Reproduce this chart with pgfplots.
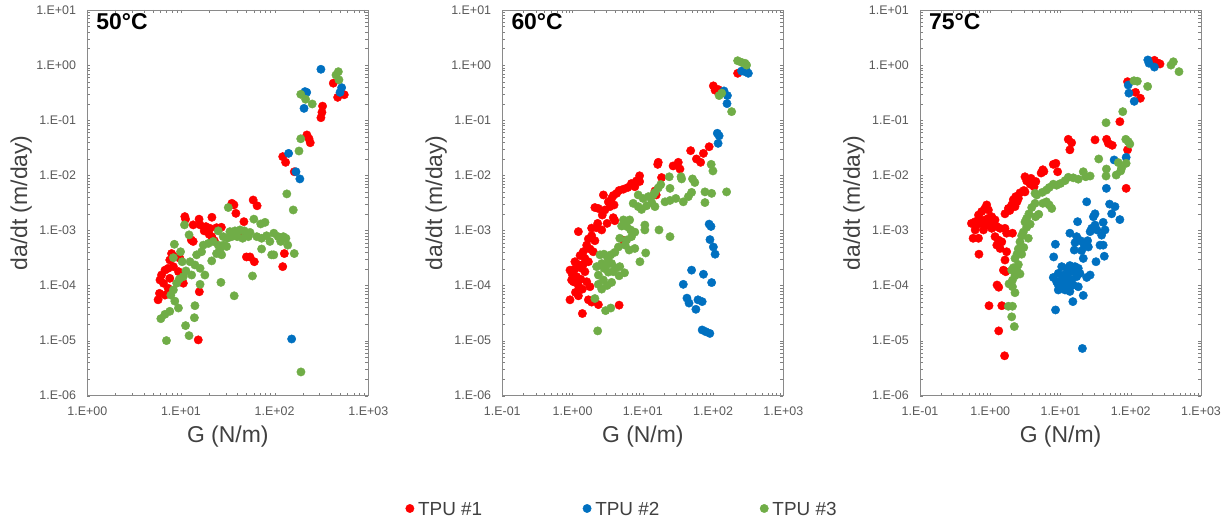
\documentclass[border=0pt]{standalone}
\usepackage{fontspec}
\setmainfont{Liberation Sans}
\usepackage{pgfplots}
\pgfplotsset{compat=1.18}
\definecolor{tpured}{HTML}{FF0000}
\definecolor{tpublue}{HTML}{0070C0}
\definecolor{tpugreen}{HTML}{70AD47}
\definecolor{boxgray}{HTML}{8A8A8A}
\definecolor{ticktext}{HTML}{595959}
\definecolor{labeltext}{HTML}{404040}
\pgfplotsset{
  every axis/.append style={
    xmode=log, ymode=log, width=281bp, height=385.7bp, scale only axis,
    ymin=1e-6, ymax=10, xmax=1000,
    ytick={1e-6,1e-5,1e-4,1e-3,1e-2,1e-1,1,10},
    yticklabels={1.E-06,1.E-05,1.E-04,1.E-03,1.E-02,1.E-01,1.E+00,1.E+01},
    minor xtick={}, minor ytick={},
    major tick length=0pt,
    axis line style={draw=boxgray, line width=0.8bp},
    tick label style={font=\fontsize{12.5}{14}\selectfont, text=ticktext, inner sep=0pt},
    xticklabel style={anchor=north, yshift=-11bp},
    yticklabel style={anchor=east, xshift=-11bp},
    xlabel={G (N/m)}, ylabel={da/dt (m/day)},
    title style={at={(axis description cs:0,1)}, anchor=north west, xshift=9bp, yshift=-9.5bp, inner sep=0pt, font=\bfseries\fontsize{23}{27}\selectfont},
  },
  every axis x label/.style={at={(axis description cs:0.5,0)}, anchor=center, yshift=-41bp, font=\fontsize{23}{27}\selectfont, text=labeltext},
  every axis y label/.style={at={(axis description cs:0,0.5)}, anchor=center, xshift=-66bp, rotate=90, font=\fontsize{23}{27}\selectfont, text=labeltext},
}
\begin{document}
\begin{tikzpicture}
\path[use as bounding box] (0,0) rectangle (1231bp,523bp);
% ---------------- 50 C ----------------
\begin{axis}[at={(87.3bp,127.3bp)}, anchor=south west,
  xmin=1, xtick={1,10,100,1000}, xticklabels={1.E+00,1.E+01,1.E+02,1.E+03},
  title={50°C}]
\addplot[only marks, mark=*, mark size=4.2bp, color=tpured, mark options={draw=none, fill=tpured}] coordinates {
(423,0.47) (471,0.26) (554,0.29) (325,0.18) (320,0.139) (312,0.111) (221,0.054) (233,0.046) (240,0.039) (122,0.0218) (131,0.0172) (162,0.0116)
(35,0.0031) (36.8,0.0029) (38.6,0.00204) (59,0.00356) (65,0.0028) (47,0.00144) (11,0.00178) (11.2,0.0016) (15.6,0.0016) (21.4,0.00173) (13.5,0.00126) (16,0.00126) (18.5,0.00117) (20.4,0.00109) (17.7,0.00098) (24,0.00112) (27,0.00114) (12.9,0.00067) (13.5,0.00063) (21.3,0.00077) (22.7,0.00065) (20,0.00085) (47,0.00083) (50,0.00033) (54.5,0.00033) (60.7,0.00027) (127,0.00038) (122,0.00022) (15.7,7.7e-5) (15.3,1.03e-5)
(7.94,0.00038) (8.6,0.00033) (9.75,0.00031) (7.6,0.00029) (7.3,0.000205) (6.75,0.00019) (8.3,0.00022) (6.2,0.000155) (5.97,0.000126) (6.5,0.00011) (7.6,0.000135) (10.2,0.000145) (10.6,0.00011) (7.3,8.9e-5) (5.9,7.2e-5) (5.7,5.5e-5) (6.75,6.7e-5) (9.4,0.000179)
};
\addplot[only marks, mark=*, mark size=4.2bp, color=tpublue, mark options={draw=none, fill=tpublue}] coordinates {
(312,0.84) (211,0.33) (220,0.32) (206,0.164) (519,0.39) (499,0.32) (141,0.025) (169,0.0116) (186,0.0086) (152,1.07e-5)
};
\addplot[only marks, mark=*, mark size=4.2bp, color=tpugreen, mark options={draw=none, fill=tpugreen}] coordinates {
(479,0.76) (452,0.66) (486,0.54) (190,0.295) (214,0.24) (252,0.197) (190,0.046) (182,0.0276) (135,0.0046) (158,0.00235) (191,2.7e-6)
(32,0.0026) (60,0.0016) (71,0.00131) (79,0.0014) (10.9,0.00126) (12.2,0.00083) (25,0.00098)
(33.3,0.00095) (37.7,0.00098) (42.7,0.00102) (47.4,0.00098) (54.6,0.00092)
(28.3,0.00077) (31.3,0.00072) (34.8,0.00077) (39.9,0.00077) (45.5,0.00072) (52.4,0.00077)
(64.6,0.00077) (72.6,0.00072) (82,0.0008) (98,0.00089) (109,0.00077) (124,0.00077) (132,0.00072)
(89,0.00063) (116,0.00063) (138,0.00054) (72.6,0.00046) (93,0.00036) (98,0.00036)
(162,0.00038) (58,0.000149) (37,6.5e-5) (26.7,0.000114) (21.3,0.00028)
(17.3,0.00054) (19.6,0.00058) (22.1,0.00063) (25,0.00054) (26,0.00044) (28.3,0.00054) (30.7,0.00051) (24,0.00038) (27.2,0.00036)
(8.5,0.00056) (9.9,0.00041) (8.3,0.00032) (10.3,0.00027) (14.7,0.00036) (16.6,0.00041) (12.5,0.00027) (14.1,0.000236) (16,0.000205) (18,0.000155) (11.3,0.000184) (13,0.000155) (10.6,0.000145) (9.6,0.000131) (9,0.00011) (8.3,8.3e-5) (7.8,6.7e-5) (8.6,5.2e-5) (9.4,3.9e-5) (7.6,3.4e-5) (6.75,3.0e-5) (6.1,2.5e-5) (16,0.000105) (14.1,4.3e-5) (13.9,2.6e-5) (11.2,1.87e-5) (12.2,1.23e-5) (7.0,1.0e-5)
};
\end{axis}
% ---------------- 60 C ----------------
\begin{axis}[at={(502.3bp,127.3bp)}, anchor=south west,
  xmin=0.1, xtick={0.1,1,10,100,1000}, xticklabels={1.E-01,1.E+00,1.E+01,1.E+02,1.E+03},
  title={60°C},
  legend columns=3,
  legend image code/.code={\draw[#1, mark size=4.2bp] plot coordinates {(0bp,1.5bp)};},
  legend style={at={(axis description cs:-0.3445,-0.2963)}, anchor=west, draw=none, fill=none, inner sep=0pt,
    font=\fontsize{19}{23}\selectfont, text=labeltext,
    nodes={inner sep=0pt},
    /tikz/every odd column/.append style={column sep=4bp},
    /tikz/every even column/.append style={column sep=100.6bp}}]
\addplot[only marks, mark=*, mark size=4.2bp, color=tpured, mark options={draw=none, fill=tpured}] coordinates {
(224,0.71) (101,0.42) (107,0.35) (119,0.36) (88,0.033) (73,0.025) (48,0.028) (58,0.0198) (66.5,0.0172) (16.6,0.0172) (16.3,0.0158) (27,0.0148) (32,0.0172) (33.8,0.013) (18.5,0.0091) (9.0,0.0098) (8.1,0.0079) (7.7,0.0062) (9,0.0077)
(6.9,0.0071) (6.1,0.006) (5.3,0.0056) (4.6,0.0053) (4.24,0.0047) (3.8,0.0043) (3.6,0.0038) (3.23,0.0033) (3.9,0.0029) (3.41,0.0027) (2.89,0.00235) (2.33,0.0025) (2.08,0.0026) (2.65,0.0019) (3.8,0.0017) (4.0,0.0015) (2.28,0.00134) (2.2,0.00112) (2.6,0.00102) (1.21,0.00095) (1.87,0.0008) (1.68,0.0007) (2.08,0.00065) (1.59,0.00054) (1.77,0.00046) (1.42,0.00041) (1.28,0.00035) (1.5,0.00031) (1.68,0.00027) (1.21,0.00024) (1.08,0.0002) (0.92,0.00019) (0.99,0.00016) (1.14,0.000145) (1.31,0.00013) (1.03,0.000117) (1.59,0.000117) (1.77,9.5e-5) (1.38,8.6e-5) (1.1,7.5e-5) (1.21,6.5e-5) (1.68,5.5e-5) (0.92,5.5e-5) (1.87,5e-5) (2.33,4.5e-5) (4.6,4.4e-5) (1.38,3.1e-5) (5.3,0.00066) (14.9,0.0052) (15.5,0.0044) (1.08,0.00027) (1.35,0.000205) (1.5,0.000178) (0.97,0.000126) (1.21,0.0001) (1.42,0.00024) (1.97,0.00041) (1.87,0.0011) (3.1,0.00134) (2.75,0.0044)
};
\addlegendentry{TPU \#1}
\addplot[only marks, mark=*, mark size=4.2bp, color=tpublue, mark options={draw=none, fill=tpublue}] coordinates {
(255,0.78) (285,0.76) (318,0.71) (300,0.78) (143,0.34) (160,0.28) (158,0.2) (115,0.058) (122,0.052) (118,0.038)
(88,0.0013) (93.5,0.00118) (90.4,0.00068) (101,0.0005) (107,0.00037) (49.5,0.00019) (73,0.00016) (95.5,0.000113) (37.7,0.000105) (42.5,5.9e-5) (45.5,4.8e-5) (61,5.5e-5) (70,5.1e-5) (57,3.7e-5) (70,1.56e-5) (79,1.45e-5) (90,1.35e-5)
};
\addlegendentry{TPU \#2}
\addplot[only marks, mark=*, mark size=4.2bp, color=tpugreen, mark options={draw=none, fill=tpugreen}] coordinates {
(224,1.2) (255,1.12) (285,1.08) (300,1.0) (122,0.28) (133,0.31) (184,0.143)
(23.8,0.0094) (35,0.0094) (35.7,0.0086) (51,0.0086) (55,0.0074) (94,0.0158) (99.6,0.012)
(8.6,0.0044) (10.1,0.0038) (12,0.0041) (14.1,0.0044) (14.9,0.0049) (16.6,0.0059) (18,0.0068) (13.4,0.0032) (11.3,0.0028) (9.6,0.0024) (7.3,0.0031) (8.6,0.0027) (14.9,0.0027) (20.7,0.0033) (24.4,0.0035) (29.5,0.0038) (37.7,0.0033) (44.5,0.0041) (49.5,0.0049) (76.7,0.005) (95.5,0.0047) (156,0.005) (76.7,0.0032) (24.4,0.0058)
(24.4,0.00077) (17,0.00102) (10.7,0.00102) (10.7,0.00125) (6.5,0.00155) (5.3,0.00155) (5,0.0012) (5.9,0.00118) (6.7,0.00102) (7.7,0.00093) (6.9,0.00077) (5.9,0.00067) (4.7,0.00072) (5.6,0.00054) (6.4,0.00044) (7.7,0.00047) (9.1,0.00027) (11,0.00039) (4.5,0.0005) (4.0,0.0004) (3.5,0.00036) (3.2,0.0003) (2.8,0.00037) (2.46,0.00036) (2.6,0.00025) (3.1,0.00024) (3.6,0.00025) (4.1,0.000205) (4.7,0.00022) (5.5,0.00017) (4.6,0.00015) (3.8,0.000178) (3.23,0.000175) (2.8,0.000205) (2.2,0.00022) (2.33,0.000155) (2.75,0.000126) (2.33,0.000105) (2.6,8.6e-5) (3.1,0.0001) (3.6,0.000114) (2.08,5.8e-5) (2.95,3.5e-5) (3.5,3.9e-5) (2.28,1.5e-5)
};
\addlegendentry{TPU \#3}
\end{axis}
% ---------------- 75 C ----------------
\begin{axis}[at={(920bp,127.3bp)}, anchor=south west,
  xmin=0.1, xtick={0.1,1,10,100,1000}, xticklabels={1.E-01,1.E+00,1.E+01,1.E+02,1.E+03},
  title={75°C}]
\addplot[only marks, mark=*, mark size=4.2bp, color=tpured, mark options={draw=none, fill=tpured}] coordinates {
(217,1.22) (247,1.08) (261,1.05) (90,0.5) (117,0.32) (137,0.25) (70,0.094) (12.9,0.045) (14.4,0.039) (13.6,0.029) (31,0.044) (45.3,0.045) (48,0.038) (54.6,0.035) (90,0.029) (86,0.0058)
(7.9,0.0158) (8.6,0.0165) (9.1,0.0116) (5.6,0.0126) (5.3,0.011) (5.8,0.0118) (3.12,0.0094) (3.3,0.0079) (3.8,0.0088) (4.45,0.0077) (4.2,0.0062) (3.7,0.0069) (3.0,0.0053) (2.3,0.0041) (2.51,0.0038)
(2.65,0.0048) (3.12,0.005) (2.13,0.0036) (2.4,0.0033) (2.02,0.0029) (1.81,0.0025) (2.25,0.0027) (1.9,0.0023) (1.62,0.002) (0.89,0.0029) (0.84,0.0025) (0.94,0.00235)
(0.755,0.0022) (0.68,0.0019) (0.72,0.00155) (0.61,0.00144) (0.54,0.00134) (0.64,0.00125) (0.755,0.00134) (0.84,0.00155) (0.94,0.00166) (1.05,0.00177) (0.99,0.00144) (1.1,0.00134) (1.17,0.00155) (0.89,0.00125) (1.05,0.00109) (1.24,0.00117) (1.38,0.00109) (1.62,0.00109) (1.71,0.00089) (0.61,0.00102) (0.8,0.00102) (0.57,0.00072) (0.68,0.00072) (1.17,0.00077) (1.3,0.00067) (1.24,0.00054) (1.46,0.00062) (1.38,0.00047) (1.71,0.00041) (2.07,0.00089) (1.62,0.00029) (0.69,0.00037) (1.54,0.00019) (1.66,0.000178) (1.25,0.000102) (1.32,9.3e-5) (0.96,4.3e-5) (1.46,4.3e-5) (1.32,1.5e-5) (1.6,5.3e-6)
};
\addplot[only marks, mark=*, mark size=4.2bp, color=tpublue, mark options={draw=none, fill=tpublue}] coordinates {
(175,1.24) (182,1.08) (217,0.92) (92,0.435) (94,0.31) (112,0.22) (58,0.019) (86,0.0212) (45,0.0058)
(23.6,0.0033) (50,0.003) (59.7,0.0027) (53.5,0.002) (70,0.00157) (31,0.002) (29.4,0.00177) (40.5,0.0014) (43,0.00102) (38.5,0.00082) (36.5,0.00054) (40.5,0.00054) (42,0.00034) (27.8,0.00109) (31,0.00125) (33,0.00102) (26.4,0.00095) (17.5,0.00144) (13.6,0.00089)
(17,0.00077) (19.3,0.00065) (16.1,0.0006) (21.5,0.00056) (24.3,0.00065) (24.9,0.0005) (20,0.00043) (21.1,0.00031) (32,0.00027) (15.7,0.00044) (26.4,0.000155) (23.6,0.00014) (21.1,6.6e-5) (15,5.1e-5) (8.45,0.00056) (8.0,0.00033) (8.5,3.6e-5) (20.5,7.2e-6)
(10.4,0.00022) (12.3,0.000205) (13.6,0.00023) (16.1,0.00022) (17.9,0.000205) (15.2,0.000178) (12.9,0.000166) (11,0.000155) (9.3,0.000166) (7.9,0.00014) (8.8,0.000117) (10.4,0.000126) (12.3,0.000126) (14.4,0.000126) (17,0.000145) (18.9,0.000166) (9.3,0.000102) (11,9.5e-5) (12.9,0.000102) (15.2,0.000102) (17.9,9.5e-5) (11.6,8.3e-5) (13.6,7.8e-5) (9.3,8.3e-5)
};
\addplot[only marks, mark=*, mark size=4.2bp, color=tpugreen, mark options={draw=none, fill=tpugreen}] coordinates {
(374,1.0) (404,1.15) (486,0.76) (111,0.52) (124,0.51) (174,0.41) (77,0.143) (44.5,0.09) (85,0.045) (92,0.041) (97,0.037) (35,0.0198) (66.5,0.017) (86,0.0165) (45,0.013) (74,0.0134) (72,0.012) (62,0.0101) (44.5,0.0097)
(21.1,0.0116) (22.9,0.0094) (26.4,0.0097) (17.9,0.0085) (15.2,0.009) (12.9,0.0092) (11.6,0.008) (10,0.0071) (8.8,0.0066) (7.9,0.0069) (6.9,0.006) (6.3,0.0054) (5.5,0.0049) (4.6,0.0044) (4.34,0.0047)
(6.3,0.0033) (7.5,0.0025) (6.9,0.0029) (5.6,0.0031) (4.34,0.0031) (3.89,0.0026) (3.55,0.002) (3.3,0.00166) (3.12,0.00142) (3.7,0.0013) (4.4,0.00177) (4.9,0.00196) (3.3,0.00114) (2.95,0.00093) (2.8,0.0008) (3.48,0.00072) (2.65,0.00062) (3.0,0.00049) (2.51,0.00046) (2.4,0.00037) (2.8,0.00037) (2.25,0.00031) (2.51,0.00024) (2.13,0.00021) (2.4,0.00019) (2.65,0.000162) (2.02,0.00019) (2.25,0.00015) (2.07,0.000125) (1.85,0.000107) (2.07,9.5e-5) (2.25,7.4e-5) (1.81,4.2e-5) (2.07,4.2e-5) (2.02,2.7e-5) (2.2,1.8e-5)
};
\end{axis}
\end{tikzpicture}
\end{document}
